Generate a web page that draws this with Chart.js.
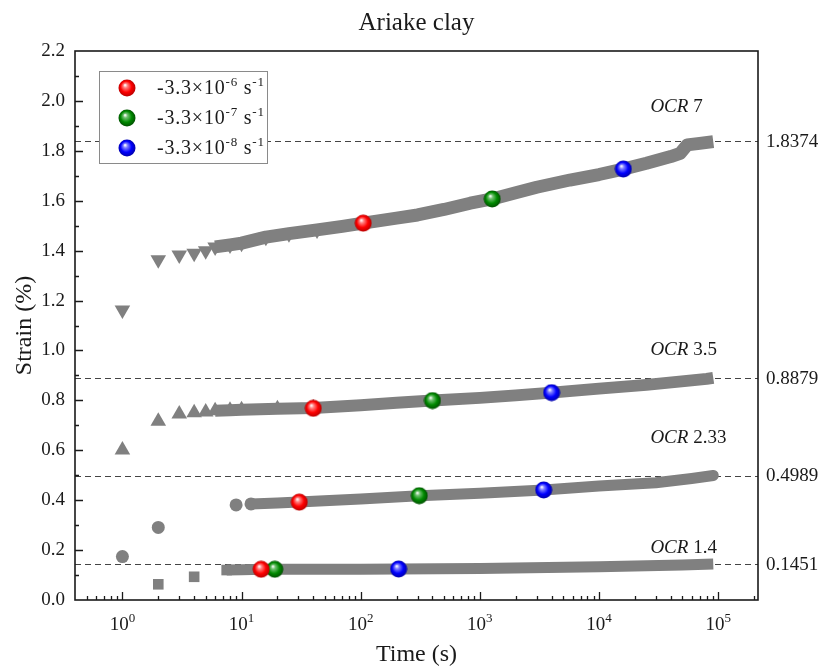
<!DOCTYPE html>
<html>
<head>
<meta charset="utf-8">
<script src="https://cdn.jsdelivr.net/npm/chart.js@4.4.1/dist/chart.umd.min.js"></script>
<style>
  body { margin: 0; background: #fff; }
  canvas { display: block; }
</style>
</head>
<body>
<canvas id="strainChart" width="819" height="669"></canvas>
<script>
/* OCR 7 - down triangles */
const ocr7Time   = [1, 2, 3, 4, 5, 6, 8, 10, 16, 25, 43, 70, 105, 200, 300, 500, 830, 1270, 2000, 3000, 5700, 10000, 16000, 25000, 40000, 48000, 55000, 70000, 91000];
const ocr7Strain = [1.162, 1.363, 1.383, 1.390, 1.400, 1.415, 1.423, 1.430, 1.454, 1.468, 1.483, 1.497, 1.510, 1.530, 1.543, 1.565, 1.590, 1.607, 1.632, 1.654, 1.683, 1.705, 1.727, 1.750, 1.777, 1.790, 1.824, 1.830, 1.837];

/* OCR 3.5 - up triangles */
const ocr35Time   = [1, 2, 3, 4, 5, 6, 8, 10, 20, 40, 100, 200, 400, 1000, 2000, 4000, 10000, 25000, 60000, 80000, 91000];
const ocr35Strain = [0.601, 0.716, 0.745, 0.750, 0.753, 0.758, 0.760, 0.762, 0.766, 0.769, 0.780, 0.790, 0.799, 0.810, 0.820, 0.831, 0.847, 0.862, 0.880, 0.886, 0.890];

/* OCR 2.33 - circles */
const ocr233Time   = [1, 2, 9, 12, 20, 30, 100, 310, 1000, 3430, 10000, 30000, 60000, 91000];
const ocr233Strain = [0.174, 0.291, 0.381, 0.385, 0.389, 0.393, 0.405, 0.418, 0.428, 0.441, 0.457, 0.470, 0.487, 0.499];

/* OCR 1.4 - squares */
const ocr14Time   = [2, 4, 7.5, 10, 15, 19, 100, 208, 1000, 10000, 50000, 91000];
const ocr14Strain = [0.063, 0.093, 0.120, 0.121, 0.123, 0.123, 0.123, 0.124, 0.126, 0.133, 0.140, 0.144];

/* strain-rate points, order: OCR 7, 3.5, 2.33, 1.4 */
const rate6Time   = [105, 40, 30.5, 14.6];
const rate6Strain = [1.510, 0.768, 0.392, 0.123];
const rate7Time   = [1270, 400, 310, 19];
const rate7Strain = [1.607, 0.799, 0.418, 0.123];
const rate8Time   = [16000, 4000, 3430, 208];
const rate8Strain = [1.727, 0.831, 0.441, 0.124];

/* final strain lines and OCR tags */
const refStrain = [1.8374, 0.8879, 0.4989, 0.1451];
const refText   = ["1.8374", "0.8879", "0.4989", "0.1451"];
const ocrNames  = ["7", "3.5", "2.33", "1.4"];
const tagTime   = [27000, 27000, 27000, 27000];
const tagStrain = [1.976, 1.002, 0.649, 0.208];

const yTicks = [0, 0.2, 0.4, 0.6, 0.8, 1.0, 1.2, 1.4, 1.6, 1.8, 2.0, 2.2];
const xDecades = [0, 1, 2, 3, 4, 5];

const GRAY = "#808080";
const SERIF = '"Liberation Serif", "Times New Roman", serif';

function sphere(light, mid, dark) {
    const c = document.createElement("canvas");
    c.width = 18; c.height = 18;
    const g = c.getContext("2d");
    const grd = g.createRadialGradient(7, 6, 0.3, 9, 9, 9);
    grd.addColorStop(0, "#ffffff");
    grd.addColorStop(0.22, light);
    grd.addColorStop(0.6, mid);
    grd.addColorStop(1, dark);
    g.fillStyle = grd;
    g.beginPath();
    g.arc(9, 9, 8.5, 0, Math.PI * 2);
    g.fill();
    return c;
}

const redBall = sphere("#ff8080", "#ff0000", "#b00000");
const greenBall = sphere("#70c070", "#008a00", "#004800");
const blueBall = sphere("#8080ff", "#0000ff", "#0000a0");

function pts(times, strains) {
    return times.map((t, i) => ({ x: t, y: strains[i] }));
}

function band(label, times, strains, style, rot, r, width, markUntil, bandFrom, cap) {
    return {
        label: label,
        data: pts(times, strains),
        showLine: true,
        borderColor: GRAY,
        borderWidth: width,
        borderCapStyle: cap,
        borderJoinStyle: "round",
        backgroundColor: GRAY,
        pointBackgroundColor: GRAY,
        pointBorderWidth: 0,
        pointStyle: style,
        pointRotation: rot,
        pointRadius: c => (c.raw && c.raw.x <= markUntil ? r : 0),
        segment: {
            borderColor: c => (c.p0.parsed.x < bandFrom ? "rgba(0,0,0,0)" : undefined)
        },
        tension: 0,
        order: 2
    };
}

function rateSet(label, times, strains, img) {
    return {
        label: label,
        data: pts(times, strains),
        showLine: false,
        pointStyle: img,
        pointRadius: 9,
        order: 0
    };
}

// text with superscripts, parts = [[text, isSup], ...]
function richText(ctx, parts, x, y, size, align, spacing) {
    const supSize = Math.round(size * 0.66);
    ctx.letterSpacing = (spacing || 0) + "px";
    let total = 0;
    parts.forEach(p => {
        ctx.font = (p[1] ? supSize : size) + "px " + SERIF;
        total += ctx.measureText(p[0]).width;
    });
    let cx = align === "center" ? x - total / 2 : x;
    ctx.textAlign = "left";
    ctx.textBaseline = "middle";
    parts.forEach(p => {
        ctx.font = (p[1] ? supSize : size) + "px " + SERIF;
        ctx.fillText(p[0], cx, p[1] ? y - size * 0.32 : y);
        cx += ctx.measureText(p[0]).width;
    });
    ctx.letterSpacing = "0px";
}

const decorations = {
    id: "decorations",
    beforeDatasetsDraw(chart) {
        const { ctx, chartArea: a, scales: { y } } = chart;
        ctx.save();
        ctx.strokeStyle = "#444";
        ctx.lineWidth = 1.2;
        ctx.setLineDash([6, 4]);
        refStrain.forEach(v => {
            const py = Math.round(y.getPixelForValue(v)) + 0.5;
            ctx.beginPath();
            ctx.moveTo(a.left, py);
            ctx.lineTo(a.right, py);
            ctx.stroke();
        });
        ctx.restore();
    },
    afterDraw(chart) {
        const { ctx, chartArea: a, scales: { x, y } } = chart;
        ctx.save();
        ctx.fillStyle = "#1a1a1a";
        ctx.strokeStyle = "#1a1a1a";

        // frame
        ctx.lineWidth = 1.6;
        ctx.strokeRect(a.left, a.top, a.right - a.left, a.bottom - a.top);

        // inward ticks
        ctx.lineWidth = 1.3;
        ctx.beginPath();
        for (let k = -1; k <= 5; k++) {
            for (let m = 1; m <= 9; m++) {
                const v = m * Math.pow(10, k);
                if (v <= x.min || v >= x.max) continue;
                const px = Math.round(x.getPixelForValue(v)) + 0.5;
                ctx.moveTo(px, a.bottom);
                ctx.lineTo(px, a.bottom - (m === 1 ? 8 : 4));
            }
        }
        for (let i = 1; i < 22; i++) {
            const py = Math.round(y.getPixelForValue(i / 10)) + 0.5;
            ctx.moveTo(a.left, py);
            ctx.lineTo(a.left + (i % 2 === 0 ? 8 : 4), py);
        }
        ctx.stroke();

        // x tick labels
        xDecades.forEach(k => {
            richText(ctx, [["10", false], [String(k), true]], x.getPixelForValue(Math.pow(10, k)), a.bottom + 25, 19, "center");
        });

        // axis titles and title
        ctx.textAlign = "center";
        ctx.textBaseline = "middle";
        ctx.font = "24px " + SERIF;
        ctx.fillText("Time (s)", (a.left + a.right) / 2, 655);
        ctx.font = "25px " + SERIF;
        ctx.fillText("Ariake clay", (a.left + a.right) / 2, 23);
        ctx.font = "24px " + SERIF;
        ctx.save();
        ctx.translate(25, (a.top + a.bottom) / 2);
        ctx.rotate(-Math.PI / 2);
        ctx.fillText("Strain (%)", 0, 0);
        ctx.restore();

        // final strain values on the right
        ctx.font = "19px " + SERIF;
        ctx.textAlign = "left";
        refStrain.forEach((v, i) => {
            ctx.fillText(refText[i], a.right + 8, y.getPixelForValue(v) + 1);
        });

        // OCR tags
        ocrNames.forEach((n, i) => {
            const px = x.getPixelForValue(tagTime[i]);
            const py = y.getPixelForValue(tagStrain[i]);
            ctx.font = "italic 19px " + SERIF;
            ctx.fillText("OCR", px, py);
            const w = ctx.measureText("OCR ").width;
            ctx.font = "19px " + SERIF;
            ctx.fillText(n, px + w, py);
        });

        // legend
        const lx = 99, ly = 71;
        ctx.fillStyle = "#ffffff";
        ctx.fillRect(lx, ly, 168, 92);
        ctx.strokeStyle = "#8a8a8a";
        ctx.lineWidth = 1;
        ctx.strokeRect(lx + 0.5, ly + 0.5, 168, 92);
        ctx.fillStyle = "#1a1a1a";
        [[redBall, "-6"], [greenBall, "-7"], [blueBall, "-8"]].forEach((row, i) => {
            const cy = ly + 17 + i * 30;
            ctx.drawImage(row[0], lx + 28 - 9, cy - 9);
            richText(ctx, [["-3.3\u00d710", false], [row[1], true], [" s", false], ["-1", true]], lx + 58, cy + 1, 20, "left", 0.8);
        });
        ctx.restore();
    }
};

new Chart(document.getElementById("strainChart"), {
    type: "scatter",
    data: {
        datasets: [
            rateSet("-3.3x10^-6 s^-1", rate6Time, rate6Strain, redBall),
            rateSet("-3.3x10^-7 s^-1", rate7Time, rate7Strain, greenBall),
            rateSet("-3.3x10^-8 s^-1", rate8Time, rate8Strain, blueBall),
            band("OCR 7", ocr7Time, ocr7Strain, "triangle", 180, 9, 13, 50, 6, "butt"),
            band("OCR 3.5", ocr35Time, ocr35Strain, "triangle", 0, 9, 12, 50, 6, "butt"),
            band("OCR 2.33", ocr233Time, ocr233Strain, "circle", 0, 6.5, 11, 12, 12, "round"),
            band("OCR 1.4", ocr14Time, ocr14Strain, "rect", 0, 7.5, 11, 7.5, 7.5, "butt")
        ]
    },
    options: {
        responsive: false,
        animation: false,
        layout: { padding: { top: 51, right: 61, left: 0, bottom: 0 } },
        plugins: {
            legend: { display: false },
            tooltip: { enabled: false }
        },
        scales: {
            x: {
                type: "logarithmic",
                min: 0.4,
                max: 216000,
                grid: { display: false, drawTicks: false },
                border: { display: false },
                ticks: { display: false },
                afterFit: s => { s.height = 69; }
            },
            y: {
                min: 0,
                max: 2.2,
                grid: { display: false, drawTicks: false },
                border: { display: false },
                afterBuildTicks: s => { s.ticks = yTicks.map(v => ({ value: v })); },
                ticks: {
                    padding: 10,
                    color: "#1a1a1a",
                    font: { family: SERIF, size: 19 },
                    callback: v => Number(v).toFixed(1)
                },
                afterFit: s => { s.width = 75; }
            }
        }
    },
    plugins: [decorations]
});
</script>
</body>
</html>
